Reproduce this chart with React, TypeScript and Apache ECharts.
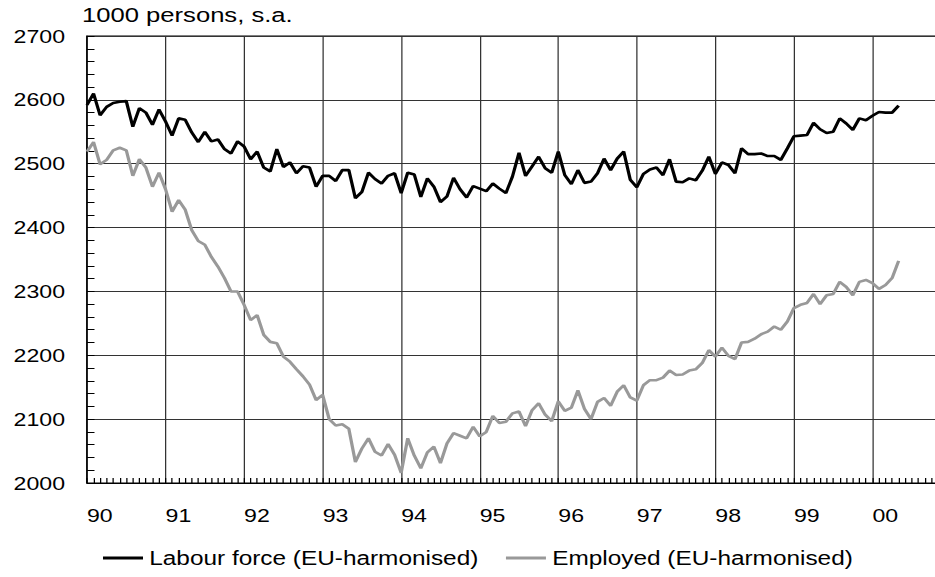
import React, { useEffect, useRef } from "react";
import * as echarts from "echarts";

// Monthly data, Jan 1990 .. May 2000 (1000 persons, s.a.)
const labourForce = [
  2592, 2610, 2576, 2589, 2595, 2597, 2598, 2558, 2587, 2580, 2561, 2585,
  2566, 2544, 2571, 2569, 2549, 2534, 2550, 2535, 2538, 2523, 2516, 2535,
  2527, 2507, 2519, 2494, 2488, 2523, 2495, 2502, 2485, 2496, 2494, 2464,
  2481, 2481, 2473, 2490, 2490, 2446, 2456, 2486, 2476, 2469, 2481, 2485,
  2454, 2486, 2483, 2448, 2477, 2464, 2440, 2449, 2478, 2460, 2447, 2465,
  2461, 2457, 2469, 2461, 2454, 2480, 2517, 2481, 2496, 2511, 2493, 2486,
  2519, 2482, 2468, 2490, 2470, 2472, 2485, 2508, 2490, 2508, 2519, 2475,
  2463, 2484, 2491, 2494, 2482, 2507, 2472, 2471, 2477, 2474, 2489, 2511,
  2484, 2502, 2498, 2485, 2524, 2515, 2515, 2516, 2512, 2512, 2506, 2524,
  2543, 2544, 2545, 2564, 2554, 2548, 2550, 2571, 2563, 2553, 2571, 2568,
  2575, 2581, 2580, 2580, 2591,
];

const employed = [
  2519, 2534, 2499, 2506, 2521, 2525, 2521, 2481, 2507, 2494, 2464, 2486,
  2460, 2425, 2443, 2428, 2396, 2379, 2373, 2354, 2339, 2321, 2300, 2300,
  2279, 2255, 2263, 2232, 2221, 2219, 2198, 2190, 2178, 2167, 2154, 2130,
  2138, 2100, 2090, 2092, 2085, 2033, 2054, 2070, 2049, 2043, 2061, 2044,
  2016, 2070, 2043, 2023, 2048, 2057, 2031, 2062, 2078, 2074, 2070, 2088,
  2073, 2080, 2105, 2094, 2096, 2109, 2112, 2089, 2114, 2125, 2107, 2097,
  2128, 2113, 2118, 2145, 2116, 2100, 2127, 2133, 2121, 2143, 2153, 2134,
  2129, 2153, 2161, 2161, 2165, 2176, 2169, 2170, 2176, 2178, 2188, 2208,
  2198, 2212, 2199, 2194, 2220, 2221, 2226, 2233, 2237, 2245, 2240, 2253,
  2274, 2279, 2282, 2296, 2280, 2294, 2296, 2315, 2307, 2294, 2315, 2318,
  2313, 2304, 2310, 2321, 2348,
];

const seriesNames = ["Labour force (EU-harmonised)", "Employed (EU-harmonised)"];
const unitLabel = "1000 persons, s.a.";
const firstYear = 90;

const SX = 1.25; // horizontal stretch of the whole picture
const W = 935 / SX;
const H = 577;
const FONT = "'Liberation Sans', Arial, Helvetica, sans-serif";

export default function App() {
  const ref = useRef<HTMLDivElement>(null);

  useEffect(() => {
    if (!ref.current) return;
    const chart = echarts.init(ref.current, null, { renderer: "svg" });
    const toPairs = (arr: number[]) => arr.map((v, i) => [i, v]);

    chart.setOption({
      animation: false,
      backgroundColor: "#fff",
      textStyle: { fontFamily: FONT, color: "#000" },
      title: {
        text: unitLabel,
        left: 82 / SX,
        top: 4,
        padding: 0,
        textStyle: { fontFamily: FONT, fontSize: 20.5, fontWeight: "normal", color: "#000" },
      },
      legend: {
        left: 103 / SX,
        top: 548,
        padding: 0,
        icon: "rect",
        itemWidth: 32,
        itemHeight: 3,
        itemGap: 22,
        data: seriesNames,
        textStyle: { fontFamily: FONT, fontSize: 19.5, color: "#000" },
      },
      grid: {
        left: 87 / SX,
        top: 36,
        width: 864 / SX,
        height: 447,
        show: true,
        borderColor: "#000",
        borderWidth: 1,
        containLabel: false,
        outerBoundsMode: "none",
      },
      xAxis: {
        type: "value",
        min: 0,
        max: 132,
        interval: 12,
        axisLine: { show: true, lineStyle: { color: "#000", width: 1 } },
        axisTick: { show: true, inside: true, length: 5, lineStyle: { color: "#000" } },
        minorTick: { show: true, splitNumber: 12, length: 5, lineStyle: { color: "#000" } },
        splitLine: { show: true, lineStyle: { color: "#333", width: 1 } },
        axisLabel: {
          show: true,
          align: "left",
          margin: 23,
          fontSize: 18.5,
          fontFamily: FONT,
          color: "#000",
          formatter: (v: number) =>
            v >= 132 ? "" : String((firstYear + v / 12) % 100).padStart(2, "0"),
        },
      },
      yAxis: {
        type: "value",
        min: 2000,
        max: 2700,
        interval: 100,
        axisLine: { show: true, lineStyle: { color: "#000", width: 1 } },
        axisTick: { show: true, inside: true, length: 6, lineStyle: { color: "#000" } },
        minorTick: { show: true, splitNumber: 5, length: 6, lineStyle: { color: "#000" } },
        splitLine: { show: true, lineStyle: { color: "#333", width: 1 } },
        axisLabel: {
          margin: 22 / SX,
          fontSize: 18.5,
          fontFamily: FONT,
          color: "#000",
          formatter: (v: number) => String(v),
        },
      },
      tooltip: { show: false },
      series: [
        {
          name: seriesNames[1],
          type: "line",
          data: toPairs(employed),
          symbol: "none",
          showSymbol: false,
          itemStyle: { color: "#999999" },
          lineStyle: { color: "#999999", width: 2.6 },
          z: 2,
        },
        {
          name: seriesNames[0],
          type: "line",
          data: toPairs(labourForce),
          symbol: "none",
          showSymbol: false,
          itemStyle: { color: "#000000" },
          lineStyle: { color: "#000000", width: 2.6 },
          z: 3,
        },
      ],
    });

    return () => chart.dispose();
  }, []);

  return (
    <div
      style={{
        position: "absolute",
        left: 0,
        top: 0,
        width: 935,
        height: 577,
        overflow: "hidden",
        background: "#fff",
      }}
    >
      <div
        ref={ref}
        style={{
          width: W,
          height: H,
          transform: `scaleX(${SX})`,
          transformOrigin: "0 0",
        }}
      />
    </div>
  );
}
